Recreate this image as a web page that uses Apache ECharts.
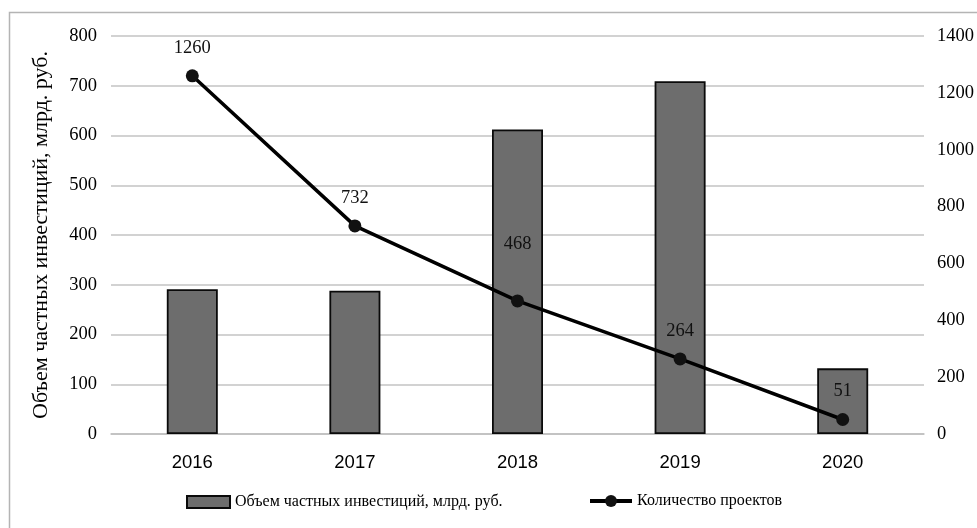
<!DOCTYPE html>
<html>
<head>
<meta charset="utf-8">
<script src="https://cdn.jsdelivr.net/npm/echarts@6/dist/echarts.min.js"></script>
<style>
  html, body { margin: 0; padding: 0; background: #fff; }
  #chart { width: 977px; height: 528px; }
</style>
</head>
<body>
<div id="chart"></div>
<script>
// Years on the category axis
const years = ['2016', '2017', '2018', '2019', '2020'];
// Private investment volume, bn RUB (left axis)
const investment = [291, 288, 612, 709, 132];
// Number of projects (right axis)
const projects = [1260, 732, 468, 264, 51];

const investName = 'Объем частных инвестиций, млрд. руб.';
const projectsName = 'Количество проектов';

const serif = '"Liberation Serif", "Times New Roman", serif';
const sans = '"Liberation Sans", Arial, sans-serif';

const chart = echarts.init(document.getElementById('chart'), null, { renderer: 'canvas' });

const legendText = { fontFamily: serif, fontSize: 16, color: '#000' };

// The 2018 label sits higher, clear of the bar top
const projectPoints = projects.map((v, i) =>
  years[i] === '2018' ? { value: v, label: { distance: 41 } } : v
);

chart.setOption({
  animation: false,
  backgroundColor: '#ffffff',
  graphic: [{
    type: 'rect',
    silent: true,
    shape: { x: 9.5, y: 12.5, width: 1100, height: 700 },
    style: { fill: 'none', stroke: '#b4b4b4', lineWidth: 1.5 },
    z: -10
  }],
  grid: { left: 111, right: 53, top: 36, bottom: 94 },
  legend: [{
    left: 186,
    top: 494,
    padding: 0,
    itemWidth: 43,
    itemHeight: 12,
    textStyle: legendText,
    data: [{ name: investName, icon: 'rect' }]
  }, {
    left: 588,
    top: 493,
    padding: 0,
    itemWidth: 42,
    itemHeight: 15,
    textStyle: legendText,
    data: [{ name: projectsName, lineStyle: { width: 4, color: '#000' } }]
  }],
  xAxis: {
    type: 'category',
    data: years,
    axisTick: { show: false },
    axisLine: { show: true, lineStyle: { color: '#bfbfbf', width: 1.5 } },
    axisLabel: { fontFamily: sans, fontSize: 18.5, color: '#000', margin: 19 }
  },
  yAxis: [{
    type: 'value',
    min: 0, max: 800, interval: 100,
    name: investName,
    nameLocation: 'middle',
    nameGap: 59,
    nameTextStyle: { fontFamily: serif, fontSize: 22, color: '#000' },
    axisLine: { show: false },
    axisTick: { show: false },
    axisLabel: { fontFamily: serif, fontSize: 18.5, color: '#000', margin: 14 },
    splitLine: { lineStyle: { color: '#c3c3c3', width: 1.5 } }
  }, {
    type: 'value',
    min: 0, max: 1400, interval: 200,
    position: 'right',
    axisLine: { show: false },
    axisTick: { show: false },
    axisLabel: {
      fontFamily: serif, fontSize: 18.5, color: '#000', margin: 13,
      formatter: (v) => String(v)
    },
    splitLine: { show: false }
  }],
  series: [{
    name: investName,
    type: 'bar',
    data: investment,
    barWidth: 51,
    yAxisIndex: 0,
    itemStyle: { color: '#6d6d6d', borderColor: '#0a0a0a', borderWidth: 1.8 }
  }, {
    name: projectsName,
    type: 'line',
    data: projectPoints,
    yAxisIndex: 1,
    symbol: 'circle',
    symbolSize: 13,
    lineStyle: { color: '#000', width: 3.5 },
    itemStyle: { color: '#111' },
    label: {
      show: true,
      position: 'top',
      distance: 12,
      fontFamily: serif,
      fontSize: 18.5,
      color: '#111'
    },
    z: 5
  }]
});
</script>
</body>
</html>
